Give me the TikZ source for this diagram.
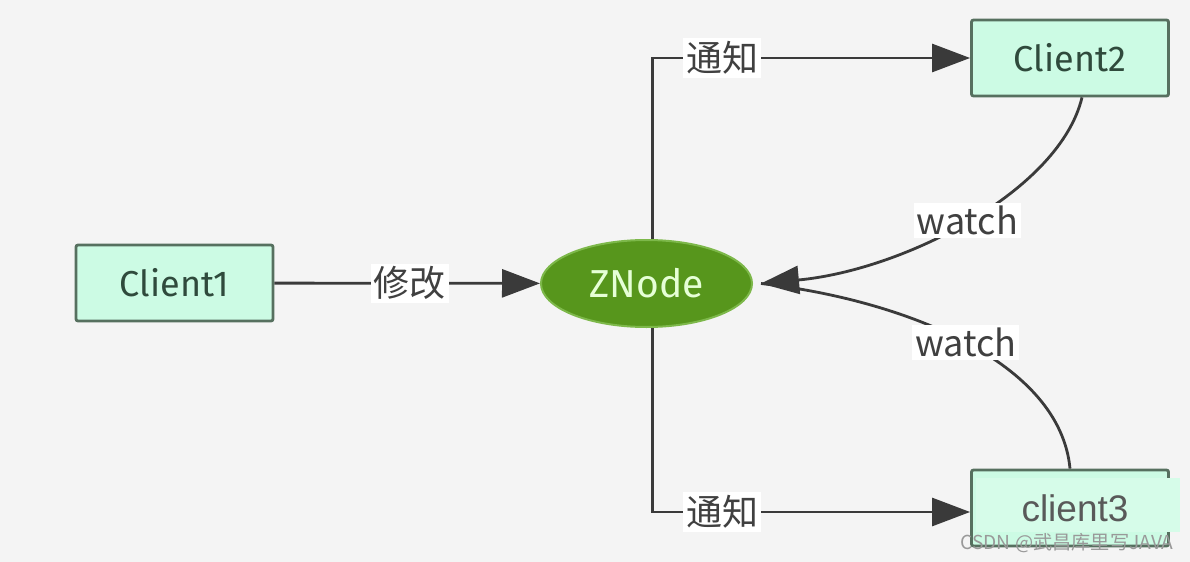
\documentclass[tikz,border=0pt]{standalone}
\usepackage{fontspec}
\setmainfont{Liberation Sans}
\newfontfamily\cjk{Noto Sans CJK SC}
\newfontfamily\clientfont{Fira Sans}
\usetikzlibrary{arrows.meta,shapes.geometric}
\definecolor{bg}{HTML}{F4F4F4}
\definecolor{boxfill}{HTML}{CCFBE4}
\definecolor{boxline}{HTML}{56705F}
\definecolor{boxtext}{HTML}{2F4A3C}
\definecolor{zfill}{HTML}{57961C}
\definecolor{zline}{HTML}{7DB84A}
\definecolor{ztext}{HTML}{E6FFD6}
\definecolor{wire}{HTML}{3A3A3A}
\tikzset{
  clientbox/.style={draw=boxline, line width=1.4pt, fill=boxfill, rounded corners=1pt,
    minimum width=98.5pt, minimum height=38pt, inner sep=0pt,
    font=\clientfont\fontsize{18}{20}\selectfont, text=boxtext},
  zellipse/.style={ellipse, draw=zline, line width=1pt, fill=zfill,
    minimum width=105.5pt, minimum height=43.5pt, inner sep=0pt,
    font=\clientfont\fontsize{19.5}{21}\selectfont, text=ztext},
  conn/.style={draw=wire, line width=1.4pt, -{Triangle[length=19pt,width=14pt]}},
  lbl/.style={fill=white, inner sep=1.5pt, text=black!75, font=\cjk\fontsize{18}{20}\selectfont},
  wlbl/.style={lbl, font=\cjk\fontsize{18}{20}\selectfont},
}
\begin{document}
\begin{tikzpicture}[x=0.5pt,y=-0.5pt]
\path[fill=bg] (0,0) rectangle (1190,562);
\useasboundingbox (0,0) rectangle (1190,562);
\node[clientbox] (c1) at (174.5,283) {Client1};
\node[clientbox] (c2) at (1070,58) {Client2};
\node[clientbox] (c3) at (1070,508) {};
\node[zellipse] (z) at (646.5,283.5) {ZNode};
% overlay on client3
\fill[boxfill!80!white] (976,478) rectangle (1180,532);
\node[text=black!65, font=\fontsize{18.5}{20}\selectfont] (c3t) at (1075,508) {client3};
% connectors
\draw[conn] (c1) -- node[lbl, pos=0.51] {修改} (z);
\draw[conn] ([xshift=3pt]z.north) |- node[lbl, pos=0.61] {通知} (c2.west);
\draw[conn] ([xshift=3pt]z.south) |- node[lbl, pos=0.61] {通知} ([yshift=-2pt]c3.west);
\coordinate (c2b) at ([xshift=6pt]c2.south);
\coordinate (c3a) at (c3.north);
\coordinate (zin) at ([xshift=4pt]z.east);
\draw[conn] (c2b) .. controls (1060,190) and (905,270) .. node[wlbl, pos=0.5] {watch} (zin);
\draw[draw=wire, line width=1.4pt] (c3a) .. controls (1060,362) and (905,300) .. node[wlbl, pos=0.5] {watch} (zin);
\node[text=black!40, font=\cjk\fontsize{9.6}{11}\selectfont] (wm) at (1067,543) {CSDN @武昌库里写JAVA};
\end{tikzpicture}
\end{document}
